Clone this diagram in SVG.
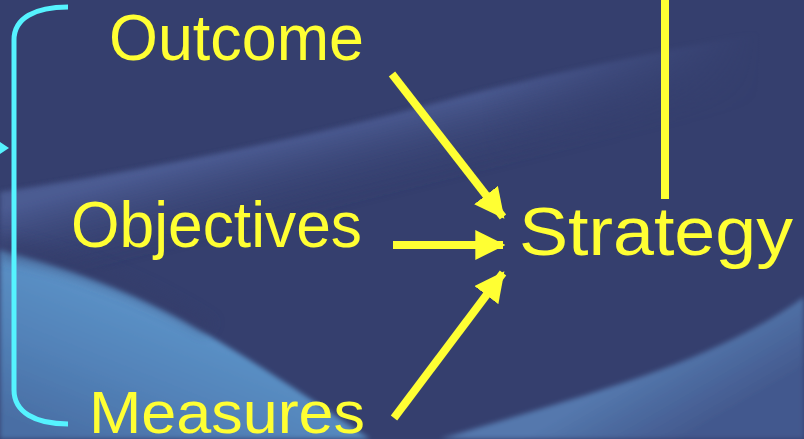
<svg xmlns="http://www.w3.org/2000/svg" width="804" height="439" viewBox="0 0 804 439">
<defs>
<style>
.lbl{font-family:"Liberation Sans",Arial,sans-serif;fill:#ffff33}
.arr{stroke:#ffff33;stroke-width:8;fill:none}
</style>
<marker id="ah" markerUnits="userSpaceOnUse" markerWidth="30" markerHeight="30" refX="24" refY="13" orient="auto" viewBox="0 0 26 26">
<polygon points="0,0 26,13 0,26" fill="#ffff33"/>
</marker>
<linearGradient id="g1" gradientUnits="userSpaceOnUse" x1="300" y1="135" x2="320" y2="215">
<stop offset="0" stop-color="#4b5b92"/>
<stop offset="1" stop-color="#353f6e" stop-opacity="0"/>
</linearGradient>
<linearGradient id="fadeR" gradientUnits="userSpaceOnUse" x1="480" y1="0" x2="760" y2="0">
<stop offset="0" stop-color="#fff"/>
<stop offset="1" stop-color="#000"/>
</linearGradient>
<mask id="m1"><rect width="804" height="439" fill="url(#fadeR)"/></mask>
<linearGradient id="g2" gradientUnits="userSpaceOnUse" x1="120" y1="290" x2="60" y2="439">
<stop offset="0" stop-color="#5c92c7"/>
<stop offset="0.5" stop-color="#5282b8"/>
<stop offset="1" stop-color="#4a6ea4"/>
</linearGradient>
<linearGradient id="g3" gradientUnits="userSpaceOnUse" x1="640" y1="370" x2="680" y2="439">
<stop offset="0" stop-color="#5478ad"/>
<stop offset="1" stop-color="#43598e"/>
</linearGradient>
<filter id="bl" x="-10%" y="-10%" width="120%" height="120%"><feGaussianBlur stdDeviation="2.5"/></filter>
<filter id="bl2" x="-10%" y="-30%" width="120%" height="160%"><feGaussianBlur stdDeviation="6"/></filter>
</defs>
<g id="background">
<rect width="804" height="439" fill="#353f6e"/>
<g mask="url(#m1)">
<path d="M0,192 C120,174 300,140 440,102 C540,76 640,54 830,20 L830,110 C500,180 250,240 0,290 Z" fill="url(#g1)" filter="url(#bl)"/>
</g>
<path d="M0,250 C80,270 150,300 200,330 C260,365 320,405 370,439 L0,439 Z" fill="url(#g2)" filter="url(#bl)"/>
<path d="M0,236 C90,252 170,292 215,322 L205,334 C150,302 80,272 0,258 Z" fill="#343d6b" opacity="0.5" filter="url(#bl2)"/>
<path d="M440,439 C520,415 600,392 660,370 C720,348 770,322 804,297 L804,439 Z" fill="url(#g3)" filter="url(#bl)"/>
</g>
<g id="brace">
<path d="M68,7 C35,7 14,18 14,40 L14,390 C14,412 35,424 68,424" fill="none" stroke="#55f3ff" stroke-width="5"/>
<polygon points="0,142 9,148 0,154" fill="#55f3ff"/>
</g>
<g id="outcome"><text class="lbl" x="109" y="60" font-size="65" textLength="255" lengthAdjust="spacingAndGlyphs">Outcome</text></g>
<g id="objectives"><text class="lbl" x="71" y="247" font-size="64" textLength="291" lengthAdjust="spacingAndGlyphs">Objectives</text></g>
<g id="measures"><text class="lbl" x="89" y="433" font-size="60" textLength="276" lengthAdjust="spacingAndGlyphs">Measures</text></g>
<g id="strategy"><text class="lbl" x="519" y="255" font-size="69" textLength="274" lengthAdjust="spacingAndGlyphs">Strategy</text></g>
<g id="connectors">
<line class="arr" x1="665" y1="0" x2="665" y2="199" stroke-width="7"/>
<line class="arr" x1="392" y1="74" x2="503" y2="217" marker-end="url(#ah)"/>
<line class="arr" x1="393" y1="245" x2="503" y2="245" marker-end="url(#ah)"/>
<line class="arr" x1="394" y1="418" x2="503" y2="273" marker-end="url(#ah)"/>
</g>
</svg>
